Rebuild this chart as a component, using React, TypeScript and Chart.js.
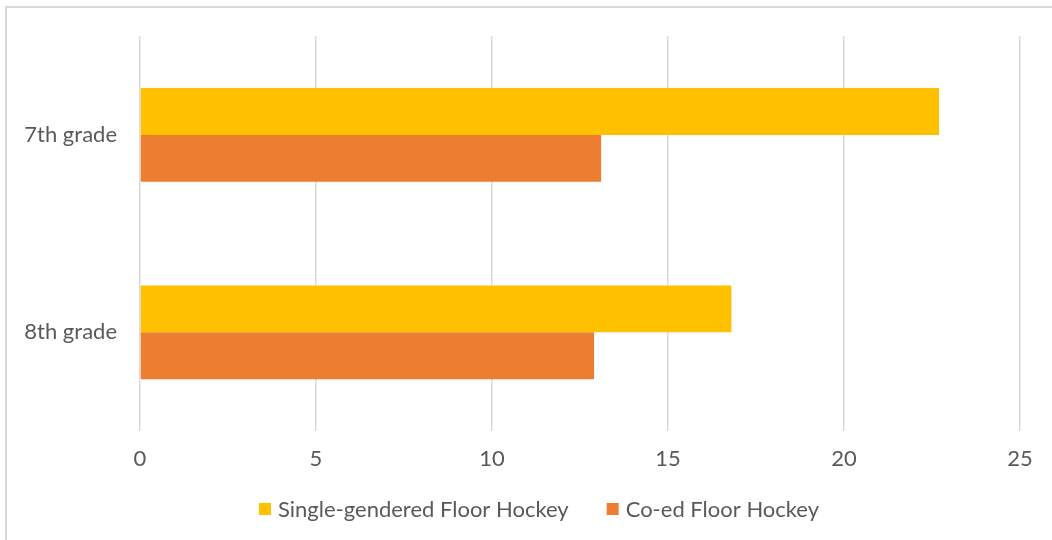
import React, { useEffect, useRef } from "react";
import { Chart, registerables } from "chart.js";

Chart.register(...registerables);

const categories = ["7th grade", "8th grade"];
const seriesNames = ["Single-gendered Floor Hockey", "Co-ed Floor Hockey"];
const seriesColors = ["#FFC000", "#ED7D31"];
const singleGendered = [22.7, 16.8];
const coEd = [13.1, 12.9];
const xMin = 0;
const xMax = 25;
const xStep = 5;

const TEXT = "#595959";
const GRID = "#d9d9d9";
const FONT = "Lato, 'Open Sans', sans-serif";
const FONT_SIZE = 22;

const bottomLegend = {
  id: "bottomLegend",
  afterDraw(chart: any) {
    const ctx = chart.ctx as CanvasRenderingContext2D;
    const datasets = chart.data.datasets;
    const box = 12;
    const gap = 7;
    const spacing = 38;
    const centerX = 539;
    const centerY = 509;
    ctx.save();
    ctx.font = `${FONT_SIZE}px ${FONT}`;
    ctx.textBaseline = "middle";
    ctx.textAlign = "left";
    const widths = datasets.map((d: any) => ctx.measureText(d.label).width);
    const total =
      widths.reduce((a: number, w: number) => a + box + gap + w, 0) +
      spacing * (datasets.length - 1);
    let x = centerX - total / 2;
    datasets.forEach((d: any, i: number) => {
      ctx.fillStyle = d.backgroundColor;
      ctx.fillRect(x, centerY - box / 2, box, box);
      x += box + gap;
      ctx.fillStyle = TEXT;
      ctx.fillText(d.label, x, centerY + 1);
      x += widths[i] + spacing;
    });
    ctx.restore();
  },
};

export default function App() {
  const ref = useRef<HTMLCanvasElement | null>(null);

  useEffect(() => {
    document.body.style.overflow = "hidden";
    const canvas = ref.current;
    if (!canvas) return;
    const chart = new Chart(canvas, {
      type: "bar",
      data: {
        labels: categories,
        datasets: [
          {
            label: seriesNames[0],
            data: singleGendered,
            backgroundColor: seriesColors[0],
            borderWidth: 0,
          },
          {
            label: seriesNames[1],
            data: coEd,
            backgroundColor: seriesColors[1],
            borderWidth: 0,
          },
        ],
      },
      options: {
        indexAxis: "y",
        responsive: false,
        animation: false,
        devicePixelRatio: 1,
        datasets: {
          bar: { barPercentage: 1, categoryPercentage: 0.475 },
        },
        layout: { padding: { left: 10, right: 32, top: 34, bottom: 49 } },
        scales: {
          x: {
            min: xMin,
            max: xMax,
            ticks: {
              stepSize: xStep,
              color: TEXT,
              font: { family: FONT, size: FONT_SIZE },
              padding: 15,
            },
            grid: { color: GRID, lineWidth: 1.5, drawTicks: false },
            border: { display: false },
            afterFit: (s: any) => {
              s.height = 60;
            },
          },
          y: {
            ticks: {
              color: TEXT,
              font: { family: FONT, size: FONT_SIZE },
              padding: 23,
            },
            grid: { display: false, drawTicks: false },
            border: { display: false },
            afterFit: (s: any) => {
              s.width = 130;
            },
          },
        },
        plugins: {
          legend: { display: false },
          tooltip: { enabled: false },
        },
      },
      plugins: [bottomLegend],
    });
    return () => chart.destroy();
  }, []);

  return (
    <>
      <div
        style={{
          position: "fixed",
          left: 5,
          top: 6,
          width: 2000,
          height: 2000,
          border: `2px solid ${GRID}`,
          boxSizing: "border-box",
        }}
      />
      <canvas
        ref={ref}
        width={1052}
        height={540}
        style={{ position: "fixed", left: 0, top: 0, width: 1052, height: 540 }}
      />
    </>
  );
}
